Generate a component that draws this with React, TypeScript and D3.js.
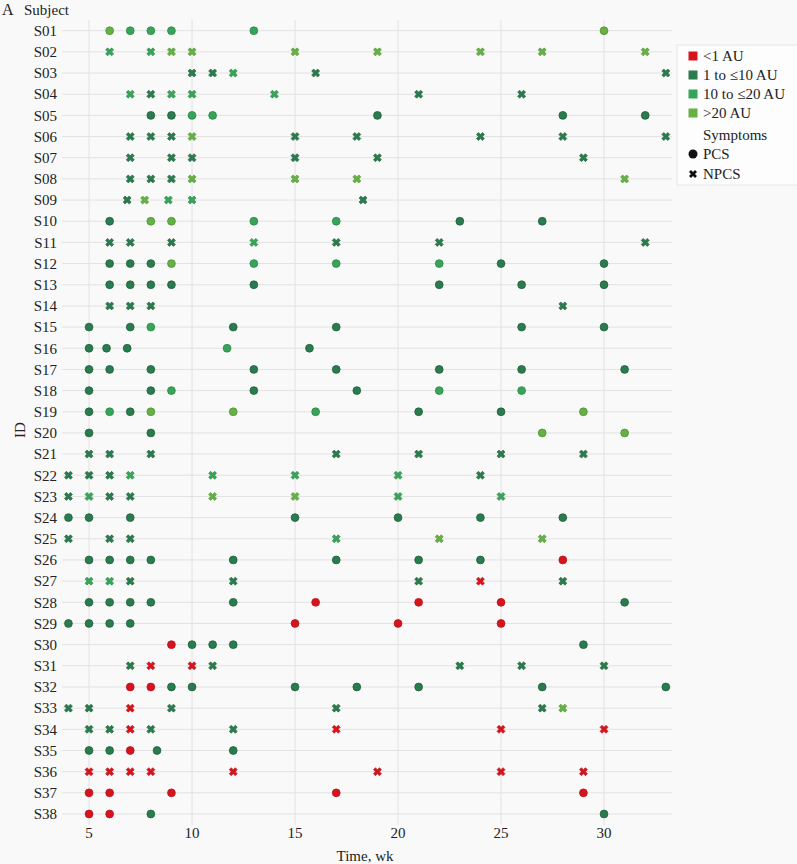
import * as d3 from "d3"

// rows of the chart, top to bottom
const subjects = [
  "S01", "S02", "S03", "S04", "S05", "S06", "S07", "S08", "S09", "S10",
  "S11", "S12", "S13", "S14", "S15", "S16", "S17", "S18", "S19", "S20",
  "S21", "S22", "S23", "S24", "S25", "S26", "S27", "S28", "S29", "S30",
  "S31", "S32", "S33", "S34", "S35", "S36", "S37", "S38",
]

const symptoms = [
  "PCS", "NPCS", "NPCS", "NPCS", "PCS", "NPCS", "NPCS", "NPCS", "NPCS", "PCS",
  "NPCS", "PCS", "PCS", "NPCS", "PCS", "PCS", "PCS", "PCS", "PCS", "PCS",
  "NPCS", "NPCS", "NPCS", "PCS", "NPCS", "PCS", "NPCS", "PCS", "PCS", "PCS",
  "NPCS", "PCS", "NPCS", "NPCS", "PCS", "NPCS", "PCS", "PCS",
]

// visit weeks per subject
const weeks = [
  [6, 7, 8, 9, 13, 30],
  [6, 8, 9, 10, 15, 19, 24, 27, 32],
  [10, 11, 12, 16, 33],
  [7, 8, 9, 10, 14, 21, 26],
  [8, 9, 10, 11, 19, 28, 32],
  [7, 8, 9, 10, 15, 18, 24, 28, 33],
  [7, 9, 10, 15, 19, 29],
  [7, 8, 9, 10, 15, 18, 31],
  [6.85, 7.7, 8.85, 10, 18.3],
  [6, 8, 9, 13, 17, 23, 27],
  [6, 7, 9, 13, 17, 22, 32],
  [6, 7, 8, 9, 13, 17, 22, 25, 30],
  [6, 7, 8, 9, 13, 22, 26, 30],
  [6, 7, 8, 28],
  [5, 7, 8, 12, 17, 26, 30],
  [5, 5.85, 6.85, 11.7, 15.7],
  [5, 6, 8, 13, 17, 22, 26, 31],
  [5, 8, 9, 13, 18, 22, 26],
  [5, 6, 7, 8, 12, 16, 21, 25, 29],
  [5, 8, 27, 31],
  [5, 6, 8, 17, 21, 25, 29],
  [4, 5, 6, 7, 11, 15, 20, 24],
  [4, 5, 6, 7, 11, 15, 20, 25],
  [4, 5, 7, 15, 20, 24, 28],
  [4, 6, 7, 17, 22, 27],
  [5, 6, 7, 8, 12, 17, 21, 24, 28],
  [5, 6, 7, 12, 21, 24, 28],
  [5, 6, 7, 8, 12, 16, 21, 25, 31],
  [4, 5, 6, 7, 15, 20, 25],
  [9, 10, 11, 12, 29],
  [7, 8, 10, 11, 23, 26, 30],
  [7, 8, 9, 10, 15, 18, 21, 27, 33],
  [4, 5, 7, 9, 17, 27, 28],
  [5, 6, 7, 8, 12, 17, 25, 30],
  [5, 6, 7, 8.3, 12],
  [5, 6, 7, 8, 12, 19, 25, 29],
  [5, 6, 9, 17, 29],
  [5, 6, 8, 30],
]

// concentration class per visit: 0 <1, 1 1-10, 2 10-20, 3 >20 AU
const levels = [
  [3, 2, 2, 2, 2, 3],
  [2, 2, 3, 3, 3, 3, 3, 3, 3],
  [1, 1, 2, 1, 1],
  [2, 1, 2, 2, 2, 1, 1],
  [1, 1, 2, 2, 1, 1, 1],
  [1, 1, 1, 3, 1, 1, 1, 1, 1],
  [1, 1, 1, 1, 1, 1],
  [1, 1, 1, 3, 3, 3, 3],
  [1, 3, 2, 2, 1],
  [1, 3, 3, 2, 2, 1, 1],
  [1, 1, 1, 2, 1, 1, 1],
  [1, 1, 1, 3, 2, 2, 2, 1, 1],
  [1, 1, 1, 1, 1, 1, 1, 1],
  [1, 1, 1, 1],
  [1, 1, 2, 1, 1, 1, 1],
  [1, 1, 1, 2, 1],
  [1, 1, 1, 1, 1, 1, 1, 1],
  [1, 1, 2, 1, 1, 2, 2],
  [1, 2, 1, 3, 3, 2, 1, 1, 3],
  [1, 1, 3, 3],
  [1, 1, 1, 1, 1, 1, 1],
  [1, 1, 1, 2, 2, 2, 2, 1],
  [1, 2, 1, 1, 3, 3, 2, 2],
  [1, 1, 1, 1, 1, 1, 1],
  [1, 1, 1, 2, 3, 3],
  [1, 1, 1, 1, 1, 1, 1, 1, 0],
  [2, 2, 1, 1, 1, 0, 1],
  [1, 1, 1, 1, 1, 0, 0, 0, 1],
  [1, 1, 1, 1, 0, 0, 0],
  [0, 1, 1, 1, 1],
  [1, 0, 0, 1, 1, 1, 1],
  [0, 0, 1, 1, 1, 1, 1, 1, 1],
  [1, 1, 0, 1, 1, 1, 3],
  [1, 1, 0, 1, 1, 0, 0, 0],
  [1, 1, 0, 1, 1],
  [0, 0, 0, 0, 0, 0, 0, 0],
  [0, 0, 0, 0, 0],
  [0, 0, 1, 1],
]

const levelLabels = ["<1 AU", "1 to \u226410 AU", "10 to \u226420 AU", ">20 AU"]
const levelFill = ["#d7141e", "#2a7b4d", "#37a559", "#66b044"]
const levelStroke = ["#b8101a", "#1f603b", "#2a8646", "#4f9233"]
const xTicks = [5, 10, 15, 20, 25, 30]

const FONT = "'Liberation Serif', 'DejaVu Serif', serif"

export default function App() {
  const width = 797
  const height = 864

  const x = d3.scaleLinear().domain([3.6, 33.3]).range([60.2, 672])
  const y = d3.scalePoint<string>().domain(subjects).range([30.7, 814])

  const crossPath = d3.symbol().type(d3.symbolCross).size(40)() || ""

  const points = subjects.flatMap((s, i) =>
    weeks[i].map((w, j) => ({ s, w, lvl: levels[i][j], sym: symptoms[i] }))
  )

  return (
    <svg
      width={width}
      height={height}
      style={{ position: "absolute", left: 0, top: 0, background: "#f9f9f9", fontFamily: FONT }}
    >
      <rect width={width} height={height} fill="#f9f9f9" />

      {/* grid */}
      {xTicks.map((t) => (
        <line key={"vx" + t} x1={x(t)} x2={x(t)} y1={20} y2={825} stroke="#e2e2e2" strokeWidth={1} />
      ))}
      {subjects.map((s) => (
        <line key={"hy" + s} x1={62} x2={672} y1={y(s)} y2={y(s)} stroke="#e2e2e2" strokeWidth={1} />
      ))}

      {/* y labels */}
      {subjects.map((s) => (
        <text key={"yl" + s} x={57} y={y(s)} dy="0.35em" textAnchor="end" fontSize={15} fill="#222">
          {s}
        </text>
      ))}

      {/* x labels */}
      {xTicks.map((t) => (
        <text key={"xl" + t} x={x(t)} y={838} textAnchor="middle" fontSize={15} fill="#222">
          {t}
        </text>
      ))}

      <text x={365} y={861} textAnchor="middle" fontSize={15} fill="#222">Time, wk</text>
      <text transform="translate(25,430) rotate(-90)" textAnchor="middle" fontSize={15} fill="#222">ID</text>
      <text x={2} y={15} fontSize={16} fill="#222">A</text>
      <text x={24} y={15} fontSize={15} fill="#222">Subject</text>

      {/* marks */}
      {points.map((p, k) =>
        p.sym === "PCS" ? (
          <circle
            key={k}
            cx={x(p.w)}
            cy={y(p.s)}
            r={3.9}
            fill={levelFill[p.lvl]}
            stroke={levelStroke[p.lvl]}
            strokeWidth={0.8}
          />
        ) : (
          <path
            key={k}
            d={crossPath}
            transform={`translate(${x(p.w)},${y(p.s)}) rotate(45)`}
            fill={levelFill[p.lvl]}
            stroke={levelStroke[p.lvl]}
            strokeWidth={0.6}
          />
        )
      )}

      {/* legend */}
      <g>
        <rect x={677} y={45} width={125} height={140} fill="#fdfdfd" stroke="#e6e6e6" strokeWidth={1} />
        {levelLabels.map((l, i) => (
          <g key={l} transform={`translate(0,${56 + i * 19})`}>
            <rect x={688.5} y={-4.5} width={9} height={9} fill={levelFill[i]} />
            <text x={703} y={0} dy="0.35em" fontSize={15} fill="#222">{l}</text>
          </g>
        ))}
        <text x={703} y={135} dy="0.35em" fontSize={15} fill="#222">Symptoms</text>
        <circle cx={693} cy={154} r={4.5} fill="#111" />
        <text x={703} y={154} dy="0.35em" fontSize={15} fill="#222">PCS</text>
        <path d={crossPath} transform="translate(693,174) rotate(45)" fill="#111" />
        <text x={703} y={174} dy="0.35em" fontSize={15} fill="#222">NPCS</text>
      </g>
    </svg>
  )
}
